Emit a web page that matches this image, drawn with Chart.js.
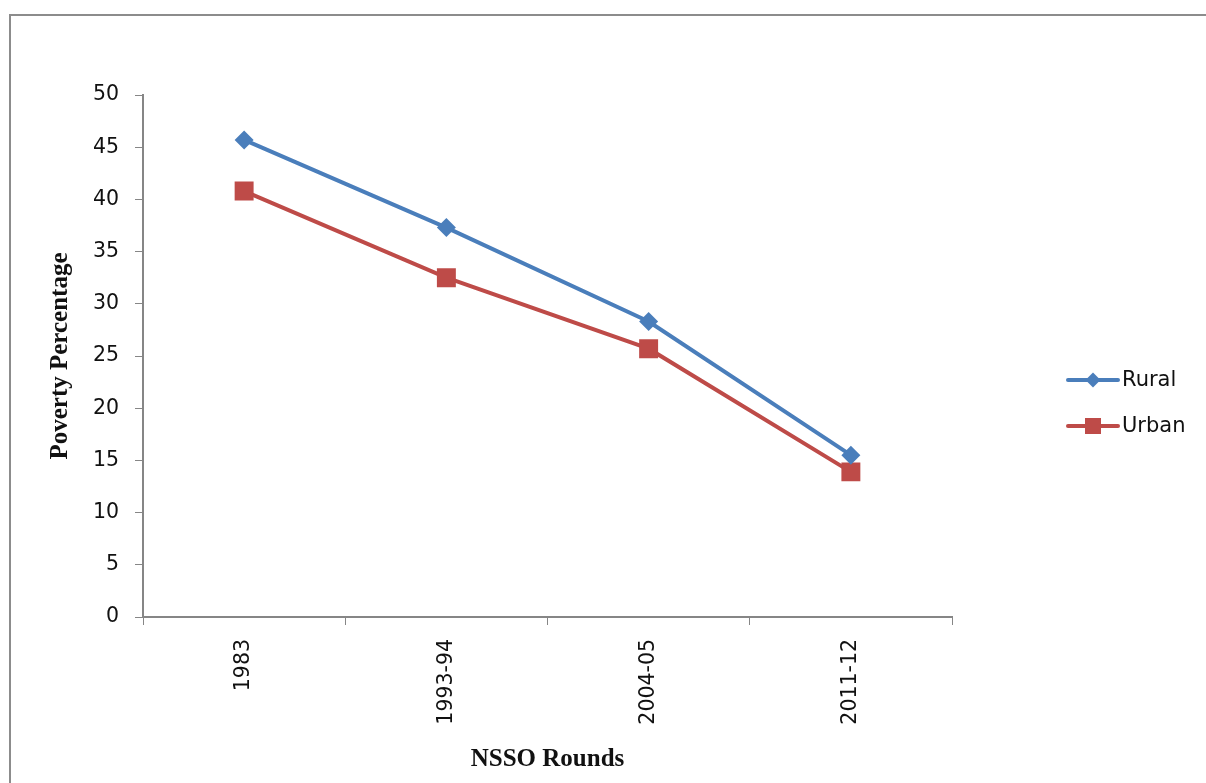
<!DOCTYPE html>
<html>
<head>
<meta charset="utf-8">
<script src="https://cdn.jsdelivr.net/npm/chart.js@4"></script>
<style>
  html, body { margin:0; padding:0; background:#fff; }
  body { width:1206px; height:783px; position:relative; overflow:hidden; }
  #frame { position:absolute; left:9px; top:14px; width:1300px; height:900px; border:2px solid #8c8c8c; }
  #wrap { position:absolute; left:0; top:0; width:1206px; height:783px; }
</style>
</head>
<body>
<div id="frame"></div>
<div id="wrap"><canvas id="chart"></canvas></div>
<script>
// ================= DATOS =================
const rounds = ["1983", "1993-94", "2004-05", "2011-12"];
const rural = [45.7, 37.3, 28.3, 15.5];
const urban = [40.8, 32.5, 25.7, 13.9];
const yTicks = [0, 5, 10, 15, 20, 25, 30, 35, 40, 45, 50];

const AXIS = "#868686";
const BLUE = "#4a7ebb";
const RED = "#be4b48";

// ================= LEYENDA =================
const sideLegend = {
  id: "sideLegend",
  afterDraw(chart){
    const ctx = chart.ctx;
    ctx.save();
    chart.data.datasets.forEach((ds, i) => {
      const y = 380 + i * 46;
      ctx.strokeStyle = ds.borderColor;
      ctx.lineWidth = 4;
      ctx.lineCap = "round";
      ctx.beginPath();
      ctx.moveTo(1068, y);
      ctx.lineTo(1118, y);
      ctx.stroke();
      ctx.fillStyle = ds.pointBackgroundColor;
      ctx.beginPath();
      if(ds.pointStyle === "rect"){
        ctx.rect(1093 - 8, y - 8, 16, 16);
      } else {
        ctx.moveTo(1093 - 7.5, y); ctx.lineTo(1093, y - 7.5);
        ctx.lineTo(1093 + 7.5, y); ctx.lineTo(1093, y + 7.5);
        ctx.closePath();
      }
      ctx.fill();
      ctx.fillStyle = "#111";
      ctx.font = "21px 'DejaVu Sans'";
      ctx.textBaseline = "middle";
      ctx.textAlign = "left";
      ctx.fillText(ds.label, 1122, y + 1);
    });
    ctx.restore();
  }
};

// ================= GRAFICA =================
new Chart(document.getElementById("chart"), {
  type: "line",
  data: {
    labels: rounds,
    datasets: [
      {
        label: "Rural",
        data: rural,
        borderColor: BLUE,
        backgroundColor: BLUE,
        pointBackgroundColor: BLUE,
        pointBorderColor: BLUE,
        borderWidth: 4,
        pointStyle: "rectRot",
        pointRadius: 9.5,
        pointBorderWidth: 0,
        tension: 0
      },
      {
        label: "Urban",
        data: urban,
        borderColor: RED,
        backgroundColor: RED,
        pointBackgroundColor: RED,
        pointBorderColor: RED,
        borderWidth: 4,
        pointStyle: "rect",
        pointRadius: 13.4,
        pointBorderWidth: 0,
        tension: 0
      }
    ]
  },
  options: {
    responsive: true,
    maintainAspectRatio: false,
    animation: false,
    layout: { padding: { left: 42, right: 254, top: 95, bottom: 4 } },
    plugins: { legend: { display: false }, tooltip: { enabled: false } },
    scales: {
      x: {
        offset: true,
        grid: { offset: true, drawOnChartArea: false, color: AXIS, tickLength: 8 },
        border: { color: AXIS, width: 2 },
        ticks: {
          color: "#111",
          font: { family: "'DejaVu Sans'", size: 20.5 },
          minRotation: 90, maxRotation: 90,
          padding: 14
        },
        title: {
          display: true,
          text: "NSSO Rounds",
          color: "#111",
          font: { family: "'Liberation Serif'", size: 25, weight: "bold" },
          padding: { top: 4, bottom: 4 }
        },
        afterFit(scale){ scale.height = 779 - 617; }
      },
      y: {
        min: 0,
        max: 50,
        afterBuildTicks(scale){ scale.ticks = yTicks.map(v => ({ value: v })); },
        grid: { drawOnChartArea: false, color: AXIS, tickLength: 8 },
        border: { color: AXIS, width: 2 },
        ticks: {
          color: "#111",
          font: { family: "'DejaVu Sans'", size: 20.5 },
          padding: 16
        },
        title: {
          display: true,
          text: "Poverty Percentage",
          color: "#111",
          font: { family: "'Liberation Serif'", size: 25, weight: "bold" },
          padding: { top: 4, bottom: 4 }
        },
        afterFit(scale){ scale.width = 143 - 42; }
      }
    }
  },
  plugins: [sideLegend]
});
</script>
</body>
</html>
